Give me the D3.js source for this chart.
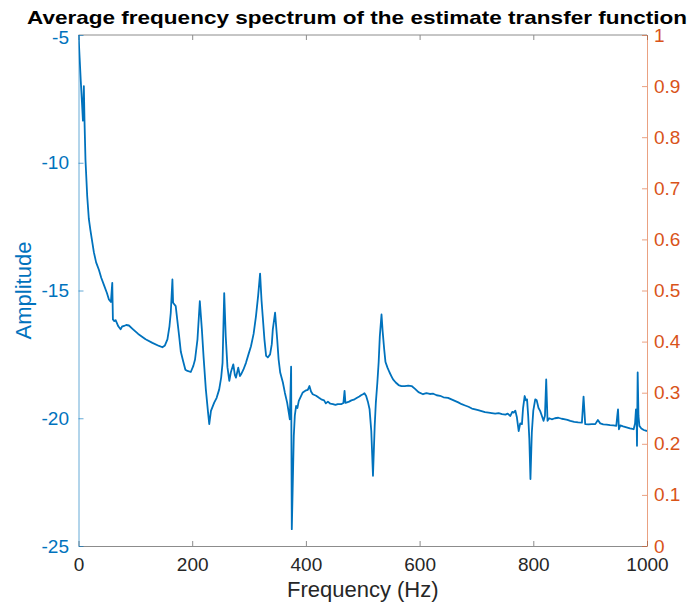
<!DOCTYPE html>
<html>
<head>
<meta charset="UTF-8">
<script src="https://cdn.jsdelivr.net/npm/d3@7/dist/d3.min.js"></script>
<style>
    body { margin: 0; background: #fff; }
    text { font-family: "Liberation Sans", Arial, Helvetica, sans-serif; }
</style>
<title></title>
</head>
<body>
<svg id="chart" width="691" height="606"></svg>
<script>
    // [frequency (Hz), amplitude]
    var spectrum = [
        [0,-5.0],[2,-5.9],[4,-6.8],[6,-7.6],[7.8,-8.35],[9.4,-7.0],[10.6,-8.4],[12.3,-9.9],[15.3,-11.3],
        [18.2,-12.2],[21,-12.65],[27,-13.5],[31,-13.9],[36,-14.2],[40,-14.5],[45,-14.8],[50,-15.1],
        [53.5,-15.35],[57,-15.45],[59.4,-14.7],[60.5,-16.13],[63,-16.2],[65.3,-16.16],[70,-16.4],
        [74,-16.52],[77,-16.4],[80,-16.39],[84,-16.35],[88.7,-16.37],[95,-16.5],[105,-16.7],[118,-16.91],
        [130,-17.05],[141.7,-17.17],[147.6,-17.22],[152,-17.15],[156.4,-16.91],[160,-16.4],[162.3,-15.87],
        [165.2,-14.57],[166.4,-15.48],[171,-15.61],[174,-16.2],[177,-16.78],[180,-17.4],[184,-17.76],
        [188,-18.1],[191.7,-18.15],[197.5,-18.19],[202,-17.95],[205,-17.7],[209.3,-16.91],[213.4,-15.42],
        [217,-16.52],[220,-17.6],[224,-18.87],[228,-19.8],[230,-20.23],[233,-19.71],[238.7,-19.39],
        [243,-19.2],[247.5,-18.87],[251,-18.4],[253.4,-17.83],[256.3,-15.1],[259,-16.8],[262,-18.0],
        [265.3,-18.54],[268,-18.2],[272.3,-17.89],[275,-18.3],[277,-18.41],[281,-18.02],[284,-18.35],
        [286,-18.28],[290,-18.1],[294.6,-17.83],[299,-17.5],[303.4,-17.18],[308,-16.7],[312.2,-16.0],
        [316,-15.2],[319.4,-14.34],[322,-15.4],[324,-16.0],[327,-16.9],[330,-17.56],[333,-17.62],
        [337,-17.5],[340,-17.1],[341.8,-16.52],[345.8,-15.87],[349.5,-16.91],[352,-17.7],[354.8,-18.21],
        [359.5,-18.6],[363,-19.0],[367,-19.39],[370,-19.8],[371.7,-20.04],[374,-17.98],[375.2,-24.34],
        [378.7,-20.69],[380.5,-19.9],[382.8,-19.52],[385,-19.6],[387.5,-19.32],[391,-19.15],[394.5,-18.99],
        [399,-18.92],[403.3,-18.89],[406.2,-18.74],[409,-18.95],[412,-19.06],[418,-19.12],[423,-19.2],
        [427,-19.26],[432,-19.3],[435,-19.42],[438.7,-19.35],[443,-19.43],[447.5,-19.45],[452,-19.48],
        [456,-19.45],[462,-19.45],[466,-19.4],[468,-18.93],[469.5,-19.4],[471,-19.39],[476,-19.35],
        [480,-19.3],[485.6,-19.26],[490,-19.2],[494,-19.15],[497,-19.1],[500.4,-19.06],[503,-19.02],
        [506,-19.13],[509,-19.35],[512,-19.65],[515,-20.5],[518,-22.25],[521,-20.3],[523,-19.4],
        [525.7,-18.6],[528,-17.8],[530,-16.8],[533,-15.94],[535,-16.6],[537.7,-17.3],[540,-17.8],
        [543.5,-18.02],[547,-18.2],[550.3,-18.35],[553.3,-18.48],[558,-18.6],[563,-18.7],[568,-18.74],
        [574,-18.74],[580,-18.72],[586,-18.74],[592,-18.85],[598,-18.98],[606,-19.06],[612,-19.02],
        [618,-19.05],[624,-19.04],[630,-19.1],[636,-19.12],[642,-19.18],[650,-19.2],[656,-19.26],
        [662,-19.32],[668,-19.38],[674,-19.45],[680,-19.5],[686,-19.55],[692,-19.62],[697.7,-19.65],
        [703,-19.68],[709,-19.72],[715,-19.76],[721.4,-19.78],[727,-19.8],[733,-19.82],[739,-19.8],
        [745,-19.84],[751,-19.86],[755,-19.82],[759.6,-19.91],[763,-19.75],[765.5,-19.78],[768.4,-19.7],
        [771,-19.95],[774.3,-20.5],[777,-20.2],[780,-20.23],[782,-19.6],[784.8,-19.13],[787,-19.3],
        [789,-19.26],[791,-19.9],[793,-20.8],[795,-22.38],[797.4,-20.56],[800,-19.7],[803.4,-19.26],
        [806,-19.3],[809.2,-19.6],[812,-19.71],[815,-19.9],[818,-20.1],[820.5,-19.9],[822.7,-18.48],
        [825,-20.1],[828,-20.0],[832.5,-20.04],[838,-20.0],[844,-19.98],[850,-20.02],[856,-20.04],
        [860,-20.06],[865,-20.1],[872,-20.14],[879,-20.16],[885.5,-20.17],[888.4,-19.15],[891.3,-20.23],
        [897,-20.24],[903,-20.23],[909,-20.23],[913.6,-20.07],[917.7,-20.2],[923,-20.24],[929,-20.25],
        [935,-20.27],[941,-20.28],[946,-20.3],[947.5,-19.95],[949,-19.65],[950.6,-20.43],[953,-20.28],
        [958,-20.32],[964,-20.36],[970,-20.4],[976.5,-20.43],[979,-20.2],[980.6,-19.65],[981.6,-19.8],
        [982.4,-21.08],[983.6,-18.21],[985,-19.9],[986.6,-20.3],[990,-20.4],[994.3,-20.46],[1000,-20.5]
    ];

    var xTicks = [0, 200, 400, 600, 800, 1000];
    var leftTicks = [-25, -20, -15, -10, -5];
    var rightTicks = [0, 0.1, 0.2, 0.3, 0.4, 0.5, 0.6, 0.7, 0.8, 0.9, 1];

    var titleText = "Average frequency spectrum of the estimate transfer function";
    var xLabel = "Frequency (Hz)";
    var yLabel = "Amplitude";

    var blue = "#0072BD", orange = "#D95319", ink = "#262626";
    var plotL = 78.5, plotR = 647, plotT = 35, plotB = 546;

    var svg = d3.select("#chart");

    var x = d3.scaleLinear().domain([0, 1000]).range([plotL, plotR]);
    var yL = d3.scaleLinear().domain([-25, -5]).range([plotB, plotT]);
    var yR = d3.scaleLinear().domain([0, 1]).range([plotB, plotT]);

    // box top line
    svg.append("line")
        .attr("x1", plotL).attr("x2", plotR).attr("y1", plotT).attr("y2", plotT)
        .attr("stroke", "#8c8c8c").attr("stroke-width", 1);

    // bottom axis
    var gx = svg.append("g")
        .attr("transform", "translate(0," + plotB + ")")
        .call(d3.axisBottom(x).tickValues(xTicks).tickFormat(d3.format("d"))
            .tickSizeInner(-5).tickSizeOuter(0).tickPadding(11.5));
    gx.select(".domain").attr("stroke", "#8c8c8c");
    gx.selectAll(".tick line").attr("stroke", "#8c8c8c");
    gx.selectAll("text").attr("fill", ink).style("font-size", "19px");

    // top ticks
    var gxt = svg.append("g")
        .attr("transform", "translate(0," + plotT + ")")
        .call(d3.axisTop(x).tickValues(xTicks).tickSizeInner(-5).tickSizeOuter(0).tickFormat(""));
    gxt.select(".domain").remove();
    gxt.selectAll(".tick line").attr("stroke", "#8c8c8c");

    // left axis (plain hyphen minus, like the reference)
    var gl = svg.append("g")
        .attr("transform", "translate(" + plotL + ",0)")
        .call(d3.axisLeft(yL).tickValues(leftTicks).tickSizeInner(-5).tickSizeOuter(0).tickPadding(9.5)
            .tickFormat(function(d) { return String(d); }));
    gl.select(".domain").attr("stroke", blue).attr("stroke-opacity", 0.6);
    gl.selectAll(".tick line").attr("stroke", blue).attr("stroke-opacity", 0.6);
    gl.selectAll("text").attr("fill", blue).style("font-size", "19px");
    gl.selectAll(".tick").filter(function(d) { return d === -5; }).select("text").attr("y", 2);

    // right axis
    var gr = svg.append("g")
        .attr("transform", "translate(" + plotR + ",0)")
        .call(d3.axisRight(yR).tickValues(rightTicks).tickSizeInner(-5).tickSizeOuter(0).tickPadding(7)
            .tickFormat(function(d) { return String(d); }));
    gr.select(".domain").attr("stroke", orange).attr("stroke-opacity", 0.55);
    gr.selectAll(".tick line").attr("stroke", orange).attr("stroke-opacity", 0.55);
    gr.selectAll("text").attr("fill", orange).style("font-size", "19px");

    svg.append("clipPath").attr("id", "plotClip")
        .append("rect").attr("x", plotL).attr("y", plotT - 2)
        .attr("width", plotR - plotL).attr("height", plotB - plotT + 4);

    var line = d3.line()
        .x(function(d) { return x(d[0]); })
        .y(function(d) { return yL(d[1]); });

    svg.append("path")
        .datum(spectrum)
        .attr("clip-path", "url(#plotClip)")
        .attr("d", line)
        .attr("fill", "none")
        .attr("stroke", blue)
        .attr("stroke-width", 1.8)
        .attr("stroke-linejoin", "round");

    // title and labels
    svg.append("text")
        .attr("x", 357).attr("y", 24)
        .attr("text-anchor", "middle")
        .attr("textLength", 660).attr("lengthAdjust", "spacingAndGlyphs")
        .style("font-size", "19px").style("font-weight", "bold")
        .attr("fill", "#000")
        .text(titleText);

    svg.append("text")
        .attr("x", (plotL + plotR) / 2).attr("y", 597)
        .attr("text-anchor", "middle")
        .style("font-size", "22px")
        .attr("fill", ink)
        .text(xLabel);

    svg.append("text")
        .attr("transform", "translate(31," + ((plotT + plotB) / 2) + ") rotate(-90)")
        .attr("text-anchor", "middle")
        .style("font-size", "22px")
        .attr("fill", blue)
        .text(yLabel);
</script>
</body>
</html>
